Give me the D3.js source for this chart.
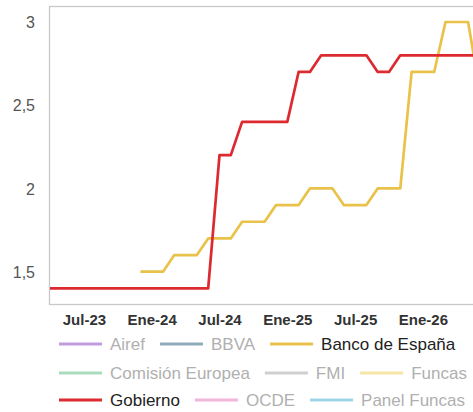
<!DOCTYPE html>
<html>
<head>
<meta charset="utf-8">
<script src="https://cdn.jsdelivr.net/npm/d3@7"></script>
<style>
  html, body { margin: 0; padding: 0; background: #fff; overflow: hidden; }
  svg { display: block; }
</style>
</head>
<body>
<div id="chart"></div>
<script>
// ---------- DATA ----------
const months = [
  "Abr-23","May-23","Jun-23","Jul-23","Ago-23","Sep-23","Oct-23","Nov-23","Dic-23",
  "Ene-24","Feb-24","Mar-24","Abr-24","May-24","Jun-24","Jul-24","Ago-24","Sep-24","Oct-24","Nov-24","Dic-24",
  "Ene-25","Feb-25","Mar-25","Abr-25","May-25","Jun-25","Jul-25","Ago-25","Sep-25","Oct-25","Nov-25","Dic-25",
  "Ene-26","Feb-26","Mar-26","Abr-26","May-26","Jun-26","Jul-26","Ago-26","Sep-26","Oct-26","Nov-26","Dic-26"
];
const tickLabels = ["Jul-23","Ene-24","Jul-24","Ene-25","Jul-25","Ene-26"];
const yTicks = [1.5, 2, 2.5, 3];

const gobierno = [
  1.4,1.4,1.4,1.4,1.4,1.4,1.4,1.4,1.4,
  1.4,1.4,1.4,1.4,1.4,1.4,2.2,2.2,2.4,2.4,2.4,2.4,
  2.4,2.7,2.7,2.8,2.8,2.8,2.8,2.8,2.7,2.7,2.8,2.8,
  2.8,2.8,2.8,2.8,2.8,2.8
];
const bancoEspana = [
  null,null,null,null,null,null,null,null,1.5,
  1.5,1.5,1.6,1.6,1.6,1.7,1.7,1.7,1.8,1.8,1.8,1.9,
  1.9,1.9,2.0,2.0,2.0,1.9,1.9,1.9,2.0,2.0,2.0,2.7,
  2.7,2.7,3.0,3.0,3.0,2.6
];

const legendNames = ["Airef","BBVA","Banco de España","Comisión Europea","FMI","Funcas","Gobierno","OCDE","Panel Funcas"];
const legendColors = ["#c39be0","#8eaabb","#e9c24a","#a9dcbd","#cfcfcf","#f6e6a6","#dc2a30","#f2b6dc","#9fd6e6"];
const legendActive = [false,false,true,false,false,false,true,false,false];

// ---------- LAYOUT ----------
const W = 473, H = 412;
const plot = { left: 50, top: 7, bottom: 305, step: 11.3 };

const svg = d3.select("#chart").append("svg")
  .attr("width", W).attr("height", H)
  .style("font-family", "'Liberation Sans', Arial, sans-serif");

const x = d3.scalePoint()
  .domain(months)
  .range([plot.left, plot.left + plot.step * (months.length - 1)]);

const y = d3.scaleLinear()
  .domain([1.3, 3.09])
  .range([plot.bottom, plot.top]);

const plotRight = plot.left + plot.step * (months.length - 1) + 20;

// frame
svg.append("rect")
  .attr("x", plot.left - 0.5).attr("y", plot.top - 0.5)
  .attr("width", plotRight - plot.left).attr("height", plot.bottom - plot.top)
  .attr("fill", "none").attr("stroke", "#c8c8c8").attr("stroke-width", 1.3);

// y axis
const yAxis = d3.axisLeft(y).tickValues(yTicks).tickSize(0).tickPadding(0)
  .tickFormat(d => String(d).replace(".", ","));
const yg = svg.append("g").attr("transform", "translate(35,0)").call(yAxis);
yg.select(".domain").remove();
yg.selectAll("text").attr("fill", "#555").style("font-size", "16px")
  .style("font-family", "'Liberation Sans', Arial, sans-serif").attr("dy", "0.35em");

// x axis
const xAxis = d3.axisBottom(x).tickValues(tickLabels).tickSize(0).tickPadding(0);
const xg = svg.append("g").attr("transform", "translate(0,314)").call(xAxis);
xg.select(".domain").remove();
xg.selectAll("text").attr("fill", "#333").style("font-size", "15px").style("font-weight", "bold")
  .style("font-family", "'Liberation Sans', Arial, sans-serif").attr("dy", "0.71em");

// lines
const line = d3.line()
  .defined(d => d.v != null)
  .x(d => x(d.m))
  .y(d => y(d.v));

const series = [
  { name: "Banco de España", values: bancoEspana, color: legendColors[2] },
  { name: "Gobierno", values: gobierno, color: legendColors[6] }
];
series.forEach(s => {
  const pts = s.values.map((v, i) => ({ m: months[i], v }));
  svg.append("path")
    .datum(pts)
    .attr("d", line)
    .attr("fill", "none")
    .attr("stroke", s.color)
    .attr("stroke-width", 2.7)
    .attr("stroke-linejoin", "round");
});

// legend
const rowsY = [344, 373, 400];
const perRow = 3;
const legStart = 59, swatchW = 43, swatchGap = 8, itemGap = 15;
for (let r = 0; r < rowsY.length; r++) {
  let cx = legStart;
  for (let c = 0; c < perRow; c++) {
    const i = r * perRow + c;
    if (i >= legendNames.length) break;
    svg.append("line")
      .attr("x1", cx).attr("x2", cx + swatchW)
      .attr("y1", rowsY[r]).attr("y2", rowsY[r])
      .attr("stroke", legendColors[i]).attr("stroke-width", 3);
    const t = svg.append("text")
      .attr("x", cx + swatchW + swatchGap).attr("y", rowsY[r])
      .attr("dy", "0.35em")
      .style("font-size", "17px")
      .attr("fill", legendActive[i] ? "#222" : "#b0b0b0")
      .text(legendNames[i]);
    cx += swatchW + swatchGap + t.node().getComputedTextLength() + itemGap;
  }
}
</script>
</body>
</html>
